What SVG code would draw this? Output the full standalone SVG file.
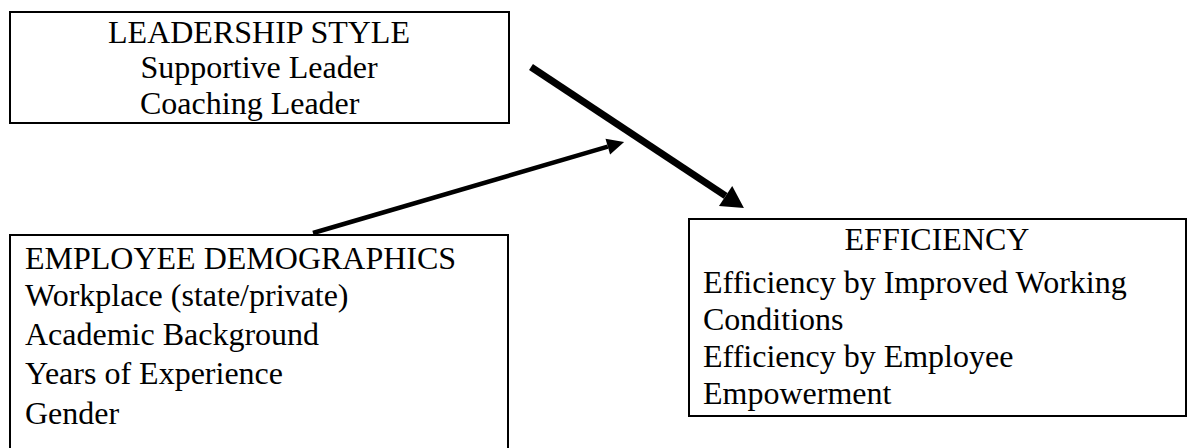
<svg xmlns="http://www.w3.org/2000/svg" width="1187" height="448" viewBox="0 0 1187 448">
<style>
.box{fill:#fff;stroke:#000;stroke-width:2}
text{font-family:'Liberation Serif','Times New Roman','DejaVu Serif',serif;font-size:32px;fill:#000}
.c{text-anchor:middle}
.conn{stroke:#000;fill:none}
</style>
<defs>
<marker id="headBig" markerUnits="userSpaceOnUse" markerWidth="24" markerHeight="26" refX="0" refY="12" orient="auto" overflow="visible">
<path d="M0,0 L22,12 L0,24 Z" fill="#000"/>
</marker>
<marker id="headSmall" markerUnits="userSpaceOnUse" markerWidth="18" markerHeight="18" refX="0" refY="8.2" orient="auto" overflow="visible">
<path d="M0,0 L17,8.2 L0,16.4 Z" fill="#000"/>
</marker>
</defs>
<g id="node-leadership">
<rect class="box" x="10" y="12" width="499" height="111"/>
<text class="c" x="259" y="43">LEADERSHIP STYLE</text>
<text class="c" x="259" y="78">Supportive Leader</text>
<text x="140" y="114">Coaching Leader</text>
</g>
<g id="node-demographics">
<rect class="box" x="10" y="235" width="498" height="240"/>
<text x="25" y="269">EMPLOYEE DEMOGRAPHICS</text>
<text x="25" y="306">Workplace (state/private)</text>
<text x="25" y="345">Academic Background</text>
<text x="25" y="384">Years of Experience</text>
<text x="25" y="424">Gender</text>
</g>
<g id="node-efficiency">
<rect class="box" x="689" y="219" width="497" height="197"/>
<text class="c" x="937" y="250">EFFICIENCY</text>
<text x="703" y="293">Efficiency by Improved Working</text>
<text x="703" y="330">Conditions</text>
<text x="703" y="367">Efficiency by Employee</text>
<text x="703" y="404">Empowerment</text>
</g>
<g id="connectors">
<line class="conn" x1="531" y1="67" x2="725.6" y2="195.9" stroke-width="7" marker-end="url(#headBig)"/>
<line class="conn" x1="313" y1="233" x2="607.8" y2="146.7" stroke-width="4.5" marker-end="url(#headSmall)"/>
</g>
</svg>
